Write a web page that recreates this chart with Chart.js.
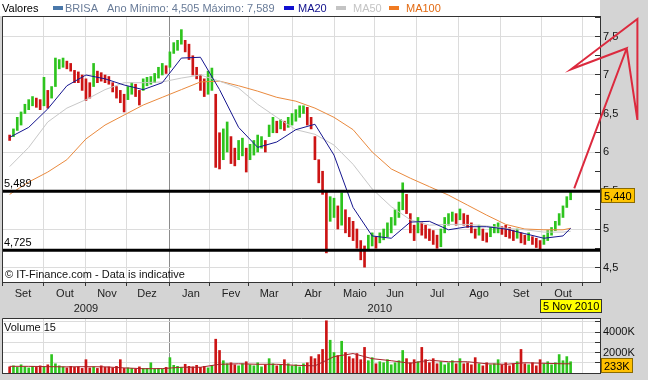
<!DOCTYPE html>
<html><head><meta charset="utf-8">
<script src="https://cdn.jsdelivr.net/npm/chart.js@4.4.1/dist/chart.umd.min.js"></script>
<style>
html,body{margin:0;padding:0;}
body{width:648px;height:380px;background:#d4d4d4;position:relative;overflow:hidden;font-family:"Liberation Sans",Arial,sans-serif;font-size:11px;}
.t{position:absolute;white-space:nowrap;line-height:13px;font-size:11px;}
.sw{position:absolute;top:6px;width:10px;height:4px;}
canvas{position:absolute;left:0;}
</style></head><body>
<div style="position:absolute;left:0;top:0;width:600px;height:16px;background:#fff"></div>
<canvas id="price" width="648" height="318" style="top:0"></canvas>
<canvas id="vol" width="648" height="62" style="top:318px"></canvas>
<div class="t" style="left:2px;top:2px;color:#000">Valores</div>
<div class="sw" style="left:53px;background:#4a78aa"></div>
<div class="t" id="lgName" style="left:65px;top:2px;color:#687b98"></div>
<div class="t" id="lgMinMax" style="left:107px;top:2px;color:#687b98"></div>
<div class="sw" style="left:284px;background:#1010d0"></div>
<div class="t" id="lgMa20" style="left:298px;top:2px;color:#10108c"></div>
<div class="sw" style="left:336px;background:#c4c4c4"></div>
<div class="t" id="lgMa50" style="left:353px;top:2px;color:#c4c4c4"></div>
<div class="sw" style="left:389px;background:#f07a22"></div>
<div class="t" id="lgMa100" style="left:406px;top:2px;color:#e26a12"></div>
<div class="t" style="left:5px;top:268px;color:#111">© IT-Finance.com - Data is indicative</div>
<div class="t" id="volTitle" style="left:4px;top:321px;color:#111"></div>
<script>
// ---------------- DATA ----------------
const seriesName = 'BRISA';
const maNames = ['MA20', 'MA50', 'MA100'];
const volumeTitle = 'Volume 15';
const monthLabels = ['Set','Out','Nov','Dez','Jan','Fev','Mar','Abr','Maio','Jun','Jul','Ago','Set','Out',''];
const monthStartSession = [-4,18,40,61,84,105,125,148,170,191,213,235,257,279,300];
const yearLabels = ['2009','2010'];
const yearCenterSession = [40,194];
const priceTickValues = [4.5,4.75,5,5.25,5.5,5.75,6,6.25,6.5,6.75,7,7.25,7.5,7.75];
const volumeTickValues = [1000,2000,3000,4000,5000];

// one bar every 2 trading sessions (session 0 = first bar)
const barSession = [0,2,4,6,8,10,12,14,16,18,20,22,24,26,28,30,32,34,36,38,40,42,44,46,48,50,52,54,56,58,
 60,62,64,66,68,70,72,74,76,78,80,82,84,86,88,90,92,94,96,98,100,102,104,106,108,110,112,114,116,118,
 120,122,124,126,128,130,132,134,136,138,140,142,144,146,148,150,152,154,156,158,160,162,164,166,168,170,172,174,176,178,
 180,182,184,186,188,190,192,194,196,198,200,202,204,206,208,210,212,214,216,218,220,222,224,226,228,230,232,234,236,238,
 240,242,244,246,248,250,252,254,256,258,260,262,264,266,268,270,272,274,276,278,280,282,284,286,288,290,292,294];

const priceLow = [6.15,6.20,6.28,6.35,6.50,6.55,6.60,6.58,6.55,6.60,
 6.57,6.70,6.85,7.08,7.10,7.08,7.05,6.90,6.90,6.80,
 6.67,6.70,6.85,6.90,6.92,6.90,6.88,6.78,6.70,6.64,
 6.52,6.68,6.75,6.72,6.61,6.80,6.86,6.88,6.90,6.96,
 7.00,7.02,7.10,7.28,7.32,7.40,7.30,7.20,7.00,6.95,
 6.80,6.72,6.75,6.80,5.80,5.78,5.90,6.00,5.85,5.82,
 5.90,5.95,5.74,5.90,5.96,6.00,6.05,6.00,6.20,6.25,
 6.25,6.30,6.28,6.32,6.35,6.40,6.45,6.50,6.35,6.30,
 5.90,5.60,5.45,4.69,5.10,5.15,5.00,5.05,4.95,4.90,
 4.85,4.75,4.60,4.505,4.72,4.78,4.75,4.82,4.86,4.90,
 4.95,5.05,5.15,5.25,5.20,4.95,4.85,4.95,4.92,4.88,
 4.85,4.80,4.75,4.77,4.95,5.05,5.10,5.05,5.12,5.05,
 5.02,4.95,4.88,4.92,4.85,4.83,4.90,4.95,4.95,4.93,
 4.90,4.88,4.85,4.88,4.82,4.80,4.85,4.80,4.76,4.73,
 4.80,4.85,4.92,4.98,5.05,5.15,5.28,5.38];
const priceHigh = [6.22,6.30,6.45,6.52,6.62,6.68,6.72,6.70,6.68,6.97,
 6.80,6.85,7.22,7.20,7.22,7.18,7.15,7.06,7.04,7.00,
 6.95,6.90,7.15,7.05,7.03,7.00,6.98,6.90,6.85,6.80,
 6.75,6.85,6.90,6.88,6.80,6.95,6.97,6.98,7.02,7.10,
 7.15,7.12,7.30,7.42,7.45,7.589,7.45,7.40,7.25,7.10,
 7.00,6.95,7.05,7.09,6.75,6.25,6.30,6.39,6.20,6.05,
 6.15,6.18,6.05,6.10,6.15,6.22,6.20,6.15,6.35,6.45,
 6.40,6.42,6.40,6.45,6.50,6.55,6.60,6.60,6.58,6.45,
 6.20,5.90,5.75,5.50,5.42,5.40,5.30,5.47,5.25,5.15,
 5.10,5.00,4.85,4.78,4.92,4.95,4.90,4.95,5.00,5.08,
 5.15,5.25,5.35,5.60,5.45,5.20,5.05,5.15,5.08,5.05,
 5.00,4.98,4.92,5.00,5.15,5.20,5.22,5.20,5.26,5.20,
 5.18,5.08,5.00,5.05,5.00,4.95,5.02,5.06,5.08,5.03,
 5.05,5.02,4.98,5.00,4.95,4.92,4.95,4.90,4.88,4.85,
 4.92,4.98,5.02,5.10,5.20,5.30,5.42,5.48];

const volume = [600,700,550,800,600,500,650,550,700,600,
 800,1800,900,700,600,500,650,550,600,450,
 1300,500,600,450,700,550,600,500,650,1300,
 450,500,450,400,600,450,450,1000,400,450,
 400,550,1500,750,650,550,850,650,600,750,
 550,650,500,750,3300,2200,1200,900,1000,800,
 700,900,1100,800,700,1000,600,800,1400,900,
 700,800,1300,900,700,800,600,900,1000,1600,
 1400,1800,2300,5100,3200,2000,1700,3100,2000,1600,
 1400,1900,1300,2500,1200,1500,900,1100,1000,1300,
 800,1000,1200,2200,1400,1000,1300,1100,2500,1300,
 1000,1400,900,1100,800,1000,1200,900,1400,900,
 1000,800,1500,900,700,1000,800,900,1300,800,
 1000,700,900,1100,2300,900,800,1000,700,1300,
 900,1100,800,1000,1800,1200,1600,1100];

// moving averages read at every 10th session
const maSession = [0,10,20,30,40,50,60,70,80,90,100,110,120,130,140,150,160,170,180,190,200,210,220,230,240,250,260,270,280,290,294];
const ma20  = [6.19,6.32,6.56,6.86,7.00,6.95,6.87,6.81,6.90,7.22,7.23,6.81,6.32,6.06,6.13,6.29,6.36,5.96,5.28,4.91,4.88,5.09,5.10,4.99,5.03,5.03,5.00,4.94,4.88,4.91,5.01];
const ma50  = [5.81,6.06,6.39,6.57,6.68,6.81,6.90,6.90,6.91,6.96,7.00,6.92,6.83,6.62,6.45,6.29,6.23,6.09,5.84,5.52,5.29,5.12,5.05,5.06,5.06,5.04,5.01,4.99,4.96,4.96,4.97];
const ma100 = [5.45,5.61,5.74,5.90,6.17,6.35,6.48,6.61,6.71,6.81,6.91,6.92,6.86,6.79,6.71,6.66,6.57,6.45,6.29,6.00,5.78,5.66,5.55,5.44,5.31,5.18,5.06,5.00,4.99,4.99,5.01];
const volMa15 = [650,650,620,600,620,600,500,420,430,560,560,850,900,850,850,750,700,1600,1900,1400,1200,950,1250,1100,1100,900,850,1000,950,900,900];

const levels = [5.489, 4.725];
const lastClose = 5.44;
const lastVolume = 233;
const lastDate = '5 Nov 2010';

// hand-drawn red arrow (session, price)
const arrowSession = [295.9, 323.4, 294.2, 329.0, 329.0, 323.4];
const arrowPrice   = [5.529, 7.347, 7.074, 7.727, 6.416, 7.347];

// ---------------- STYLE / SETUP ----------------
const FONT = '"Liberation Sans", Arial, sans-serif';
Chart.defaults.font.family = FONT;
Chart.defaults.font.size = 11;
Chart.defaults.color = '#111';

const xMin = -4, xMax = 309.4;
const GRID = '#dcdcdc', YEAR_GRID = '#8c8c8c', AXIS = '#333';
const yearBoundary = monthStartSession[4];
const fmt = v => String(v).replace('.', ',');
const isHalf = v => Math.abs(v * 2 - Math.round(v * 2)) < 1e-6;
const monthGrid = c => (c.tick && c.tick.value === yearBoundary) ? YEAR_GRID : GRID;
const zeroPad = s => { s.paddingLeft = 0; s.paddingRight = 0; s.paddingTop = 0; s.paddingBottom = 0; };

const up = priceLow.map((lo, i) => i > 0 && (lo + priceHigh[i]) > (priceLow[i-1] + priceHigh[i-1]));
const barColor = up.map(u => u ? '#2ec41e' : '#cc1414');

document.getElementById('lgName').textContent = seriesName;
document.getElementById('lgMinMax').textContent =
  'Ano Mínimo: ' + Math.min(...priceLow).toFixed(3).replace('.', ',') +
  ' Máximo: ' + Math.max(...priceHigh).toFixed(3).replace('.', ',');
document.getElementById('lgMa20').textContent = maNames[0];
document.getElementById('lgMa50').textContent = maNames[1];
document.getElementById('lgMa100').textContent = maNames[2];
document.getElementById('volTitle').textContent = volumeTitle;

const pts = (xs, ys) => xs.map((x, i) => ({x: x, y: ys[i]}));

function boxText(ctx, label, bx, by, bh, fill, stroke) {
  ctx.font = '11px ' + FONT;
  const tw = ctx.measureText(label).width;
  const bw = Math.round(tw + 6);
  ctx.fillStyle = fill; ctx.fillRect(bx, by, bw, bh);
  ctx.strokeStyle = stroke; ctx.lineWidth = 1; ctx.strokeRect(bx + 0.5, by + 0.5, bw - 1, bh - 1);
  ctx.fillStyle = '#000'; ctx.textBaseline = 'middle'; ctx.textAlign = 'left';
  ctx.fillText(label, bx + 3, by + bh / 2 + 1);
  return bw;
}

const frame = {
  id: 'frame',
  beforeDraw(chart) {
    const {ctx, chartArea: a} = chart;
    ctx.save(); ctx.fillStyle = '#fff';
    ctx.fillRect(a.left, a.top, a.right - a.left, a.bottom - a.top);
    ctx.restore();
  },
  afterDraw(chart) {
    const {ctx, chartArea: a} = chart;
    ctx.save(); ctx.strokeStyle = AXIS; ctx.lineWidth = 1;
    ctx.beginPath();
    ctx.moveTo(a.left + 0.5, a.bottom); ctx.lineTo(a.left + 0.5, a.top + 0.5); ctx.lineTo(a.right, a.top + 0.5);
    ctx.stroke(); ctx.restore();
  }
};

const priceDecor = {
  id: 'priceDecor',
  afterDatasetsDraw(chart) {
    const {ctx, chartArea: a, scales} = chart;
    ctx.save();
    ctx.font = '11px ' + FONT; ctx.fillStyle = '#000'; ctx.textBaseline = 'bottom'; ctx.textAlign = 'left';
    levels.forEach(v => ctx.fillText(v.toFixed(3).replace('.', ','), a.left + 2, scales.y.getPixelForValue(v) - 2));
    ctx.restore();
  },
  afterDraw(chart) {
    const {ctx, chartArea: a, scales} = chart;
    ctx.save();
    const py = scales.y.getPixelForValue(lastClose);
    boxText(ctx, lastClose.toFixed(3).replace('.', ','), Math.round(a.right + 1), Math.round(py - 7.5), 15, '#ffc400', '#8a6a00');
    ctx.font = '11px ' + FONT;
    const px = scales.x.getPixelForValue(barSession[barSession.length - 1]);
    const bw = Math.round(ctx.measureText(lastDate).width + 6);
    boxText(ctx, lastDate, Math.round(px - bw / 2), Math.round(scales.xYear.top - 3), 14, '#ffff00', '#333');
    ctx.restore();
  }
};

const volDecor = {
  id: 'volDecor',
  afterDraw(chart) {
    const {ctx, chartArea: a, scales} = chart;
    ctx.save();
    const py = scales.y.getPixelForValue(lastVolume);
    const by = Math.min(py - 7.5, a.bottom - 15);
    boxText(ctx, lastVolume + 'K', Math.round(a.right + 1), Math.round(by), 15, '#ffc000', '#8a6a00');
    ctx.restore();
  }
};

const lineDs = (data, color, width, order) => ({
  type: 'line', data: data, borderColor: color, borderWidth: width, pointRadius: 0,
  tension: 0, order: order, xAxisID: 'x', yAxisID: 'y'
});

// ---------------- PRICE CHART ----------------
const arrowDs = lineDs(pts(arrowSession, arrowPrice), '#dc2a3e', 2, 0);
arrowDs.clip = false;

new Chart(document.getElementById('price'), {
  type: 'bar',
  data: {
    datasets: [
      arrowDs,
      ...levels.map(v => lineDs([{x: xMin, y: v}, {x: xMax, y: v}], '#000', 3, 1)),
      lineDs(pts(maSession, ma20), '#16168f', 1, 3),
      lineDs(pts(maSession, ma50), '#c8c8c8', 1, 4),
      lineDs(pts(maSession, ma100), '#ea8a3e', 1, 5),
      {
        type: 'bar', order: 6, xAxisID: 'x', yAxisID: 'y',
        data: barSession.map((s, i) => ({x: s, y: [priceLow[i], priceHigh[i]]})),
        backgroundColor: barColor, borderWidth: 0, barThickness: 2
      }
    ]
  },
  options: {
    responsive: false, animation: false, devicePixelRatio: 1, events: [],
    layout: {autoPadding: false, padding: {left: 2, top: 16, right: 0, bottom: 0}},
    plugins: {legend: {display: false}, tooltip: {enabled: false}},
    scales: {
      x: {
        type: 'linear', position: 'bottom', weight: 0, min: xMin, max: xMax, offset: false, bounds: 'data',
        afterBuildTicks: s => { s.ticks = monthStartSession.map(v => ({value: v})); },
        afterFit: s => { s.height = 20; zeroPad(s); },
        ticks: {autoSkip: false, maxRotation: 0, minRotation: 0, labelOffset: 21, padding: 1, color: '#222',
                callback: (v, i) => monthLabels[i]},
        grid: {offset: false, color: monthGrid, tickColor: AXIS, tickLength: 4, lineWidth: 1},
        border: {display: true, color: AXIS}
      },
      xYear: {
        type: 'linear', position: 'bottom', weight: 1, min: xMin, max: xMax, offset: false, bounds: 'data',
        afterBuildTicks: s => { s.ticks = yearCenterSession.map(v => ({value: v})); },
        afterFit: s => { s.height = 16; zeroPad(s); },
        ticks: {autoSkip: false, maxRotation: 0, minRotation: 0, padding: 0, color: '#222',
                callback: (v, i) => yearLabels[i]},
        grid: {display: false, drawTicks: false, offset: false},
        border: {display: false}
      },
      y: {
        type: 'linear', position: 'right', min: 4.312, max: 7.766, bounds: 'data',
        afterBuildTicks: s => { s.ticks = priceTickValues.map(v => ({value: v})); },
        afterFit: s => { s.width = 48; zeroPad(s); },
        ticks: {autoSkip: false, padding: 8, color: '#111', callback: v => isHalf(v) ? fmt(v) : ''},
        grid: {color: c => (c.tick && isHalf(c.tick.value)) ? GRID : 'rgba(0,0,0,0)', tickColor: AXIS, tickLength: -5},
        border: {display: true, color: AXIS}
      }
    }
  },
  plugins: [frame, priceDecor]
});

// ---------------- VOLUME CHART ----------------
new Chart(document.getElementById('vol'), {
  type: 'bar',
  data: {
    datasets: [
      lineDs(pts(maSession, volMa15), '#a8232a', 1, 1),
      {
        type: 'bar', order: 2, xAxisID: 'x', yAxisID: 'y',
        data: barSession.map((s, i) => ({x: s, y: volume[i]})),
        backgroundColor: barColor, borderWidth: 0, barThickness: 2
      }
    ]
  },
  options: {
    responsive: false, animation: false, devicePixelRatio: 1, events: [],
    layout: {autoPadding: false, padding: {left: 2, top: 0, right: 0, bottom: 7}},
    plugins: {legend: {display: false}, tooltip: {enabled: false}},
    scales: {
      x: {
        type: 'linear', position: 'bottom', min: xMin, max: xMax, offset: false, bounds: 'data',
        afterBuildTicks: s => { s.ticks = monthStartSession.map(v => ({value: v})); },
        afterFit: s => { s.height = 0; zeroPad(s); },
        ticks: {display: false},
        grid: {offset: false, color: monthGrid, drawTicks: false},
        border: {display: true, color: AXIS}
      },
      y: {
        type: 'linear', position: 'right', min: 0, max: 5370, bounds: 'data',
        afterBuildTicks: s => { s.ticks = volumeTickValues.map(v => ({value: v})); },
        afterFit: s => { s.width = 48; zeroPad(s); },
        ticks: {autoSkip: false, padding: 8, color: '#111', callback: v => (v % 2000 === 0) ? v + 'K' : ''},
        grid: {color: GRID, tickColor: AXIS, tickLength: -5},
        border: {display: true, color: AXIS}
      }
    }
  },
  plugins: [frame, volDecor]
});
</script>
</body></html>
